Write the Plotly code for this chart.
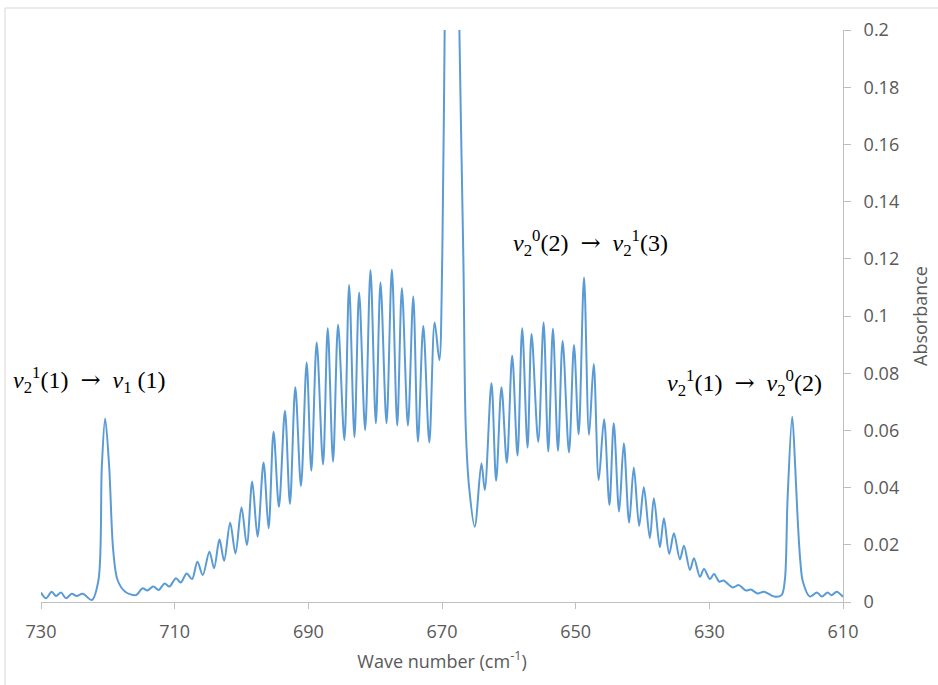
import plotly.graph_objects as go

# Spectrum (extrema and shape points), wavenumber in cm^-1
WAVENUMBER = [
    730.0, 729.25, 728.4, 727.75, 727.0, 726.25, 725.4, 724.65, 723.75, 722.4,
    721.4, 720.9, 720.4, 719.8, 719.2, 718.55, 717.4,
    715.8, 714.8, 714.1, 713.2, 712.4, 711.5, 710.8, 709.8, 709.1, 708.2,
    707.4, 706.6, 705.8, 704.8, 704.1, 703.3, 702.6, 701.7, 700.9, 700.0,
    699.2, 698.4, 697.6, 696.7, 695.95, 695.2, 694.4, 693.5, 692.75, 691.95,
    691.1, 690.25, 689.55, 688.75, 687.8, 687.1, 686.3, 685.55, 684.6, 683.9,
    683.1, 682.4, 681.5, 680.7, 679.9, 679.2, 678.3, 677.5, 676.7, 676.0,
    675.1, 674.3, 673.6, 672.8, 671.9, 671.1, 670.4,
    669.95, 669.6, 669.1, 668.5, 667.9, 667.4, 666.8, 666.45, 665.95, 665.1,
    664.1, 663.6, 662.6, 661.9, 661.1, 660.3, 659.5, 658.7, 658.0, 657.2,
    656.6, 655.6, 654.8, 654.1, 653.4, 652.65, 651.95, 651.0, 650.25, 649.55,
    648.75, 648.0, 647.3, 646.55, 645.75, 644.95, 644.3, 643.5, 642.8, 642.0,
    641.3, 640.5, 639.8, 638.9, 638.3, 637.4, 636.8, 636.0, 635.3, 634.4,
    633.8, 632.9, 632.3, 631.4, 630.8, 629.9, 629.3, 628.5, 627.9, 626.5,
    625.6, 624.5, 623.8, 622.8, 621.8, 620.3, 619.2,
    618.7, 618.3, 617.6, 617.15, 616.8, 616.4, 616.0,
    614.95, 613.9, 613.15, 612.3, 611.7, 610.95, 610.0,
]
ABSORBANCE = [
    0.0033, 0.0013, 0.0036, 0.0021, 0.0033, 0.0013, 0.0029, 0.0021, 0.0029, 0.0007,
    0.0077, 0.0473, 0.0642, 0.0473, 0.0182, 0.0077, 0.0036,
    0.0024, 0.0048, 0.0040, 0.0054, 0.0042, 0.0065, 0.0054, 0.0083, 0.0068, 0.0100,
    0.0080, 0.0141, 0.0094, 0.0176, 0.0118, 0.0219, 0.0144, 0.0277, 0.0170, 0.0331,
    0.0199, 0.0421, 0.0228, 0.0488, 0.0258, 0.0595, 0.0333, 0.0669, 0.0343, 0.0751,
    0.0406, 0.0837, 0.0459, 0.0907, 0.0481, 0.0957, 0.0491, 0.0969, 0.0566, 0.1108,
    0.0577, 0.1082, 0.0601, 0.1161, 0.0625, 0.1117, 0.0625, 0.1163, 0.0617, 0.1097,
    0.0617, 0.1068, 0.0560, 0.0965, 0.0558, 0.0977, 0.0846,
    0.1220, 0.2000, 0.3000, 0.3400, 0.3000, 0.2000, 0.1196, 0.0613, 0.0403, 0.0263,
    0.0485, 0.0392, 0.0765, 0.0424, 0.0751, 0.0487, 0.0861, 0.0512, 0.0957, 0.0540,
    0.0937, 0.0560, 0.0977, 0.0526, 0.0955, 0.0529, 0.0913, 0.0523, 0.0899, 0.0586,
    0.1135, 0.0584, 0.0832, 0.0427, 0.0639, 0.0339, 0.0625, 0.0316, 0.0555, 0.0277,
    0.0470, 0.0266, 0.0401, 0.0223, 0.0363, 0.0191, 0.0293, 0.0168, 0.0240, 0.0149,
    0.0197, 0.0112, 0.0153, 0.0088, 0.0115, 0.0080, 0.0098, 0.0071, 0.0075, 0.0051,
    0.0059, 0.0040, 0.0044, 0.0030, 0.0036, 0.0019, 0.0024,
    0.0077, 0.0357, 0.0648, 0.0473, 0.0298, 0.0147, 0.0071,
    0.0019, 0.0033, 0.0019, 0.0033, 0.0024, 0.0036, 0.0018,
]

X_TICKS = [730, 710, 690, 670, 650, 630, 610]
X_TICK_LABELS = ["730", "710", "690", "670", "650", "630", "610"]
Y_TICKS = [0, 0.02, 0.04, 0.06, 0.08, 0.1, 0.12, 0.14, 0.16, 0.18, 0.2]
Y_TICK_LABELS = ["0", "0.02", "0.04", "0.06", "0.08", "0.1", "0.12", "0.14", "0.16", "0.18", "0.2"]

ARROW = "<span style='font-family:DejaVu Serif'>→</span>"
LABEL_LEFT = "<i>ν</i><sub>2</sub><sup>1</sup>(1)  " + ARROW + "  <i>ν</i><sub>1</sub> (1)"
LABEL_MID = "<i>ν</i><sub>2</sub><sup>0</sup>(2)  " + ARROW + "  <i>ν</i><sub>2</sub><sup>1</sup>(3)"
LABEL_RIGHT = "<i>ν</i><sub>2</sub><sup>1</sup>(1)  " + ARROW + "  <i>ν</i><sub>2</sub><sup>0</sup>(2)"

AXIS_FONT = dict(family="Open Sans, Liberation Sans, sans-serif", size=18, color="#595959")
GREY = "#bfbfbf"

fig = go.Figure()
fig.add_trace(go.Scatter(
    x=WAVENUMBER, y=ABSORBANCE, mode="lines",
    line=dict(color="#5B9BD5", width=2, shape="spline", smoothing=0.9),
    hoverinfo="skip", showlegend=False,
))

fig.update_layout(
    width=938, height=685,
    margin=dict(l=41, r=95, t=30, b=83),
    paper_bgcolor="white", plot_bgcolor="white",
    font=dict(family="Open Sans, Liberation Sans, sans-serif", size=18, color="#595959"),
    xaxis=dict(
        range=[730, 610], tickvals=X_TICKS, ticktext=X_TICK_LABELS,
        showgrid=False, zeroline=False, showline=True, linecolor=GREY, linewidth=1,
        ticks="outside", ticklen=6, tickcolor=GREY, tickfont=AXIS_FONT,
        ticklabelstandoff=7, automargin=False,
        title=dict(text="Wave number (cm<sup>-1</sup>)", font=AXIS_FONT, standoff=13),
    ),
    yaxis=dict(
        range=[0, 0.2], side="right", tickvals=Y_TICKS, ticktext=Y_TICK_LABELS,
        showgrid=False, zeroline=False, showline=True, linecolor=GREY, linewidth=1,
        ticks="outside", ticklen=7, tickcolor=GREY, tickfont=AXIS_FONT,
        ticklabelstandoff=9, automargin=False,
        title=dict(text="Absorbance", font=AXIS_FONT, standoff=16),
    ),
)

ann_font = dict(family="Liberation Serif, Times New Roman, serif", size=24, color="black")
for txt, xp, yp in [(LABEL_LEFT, 0.0599, 0.388), (LABEL_MID, 0.685, 0.6276), (LABEL_RIGHT, 0.877, 0.383)]:
    fig.add_annotation(text=txt, x=xp, y=yp, xref="paper", yref="paper",
                       xanchor="center", yanchor="middle", showarrow=False, font=ann_font)

# light outer chart frame
fig.add_shape(type="rect", xref="paper", yref="paper",
              x0=(5 - 41) / 801.5, x1=(945 - 41) / 801.5,
              y0=(602 - 692) / 572, y1=(602 - 8) / 572,
              line=dict(color="#d9d9d9", width=1), layer="below")

fig.write_html("out.html")
